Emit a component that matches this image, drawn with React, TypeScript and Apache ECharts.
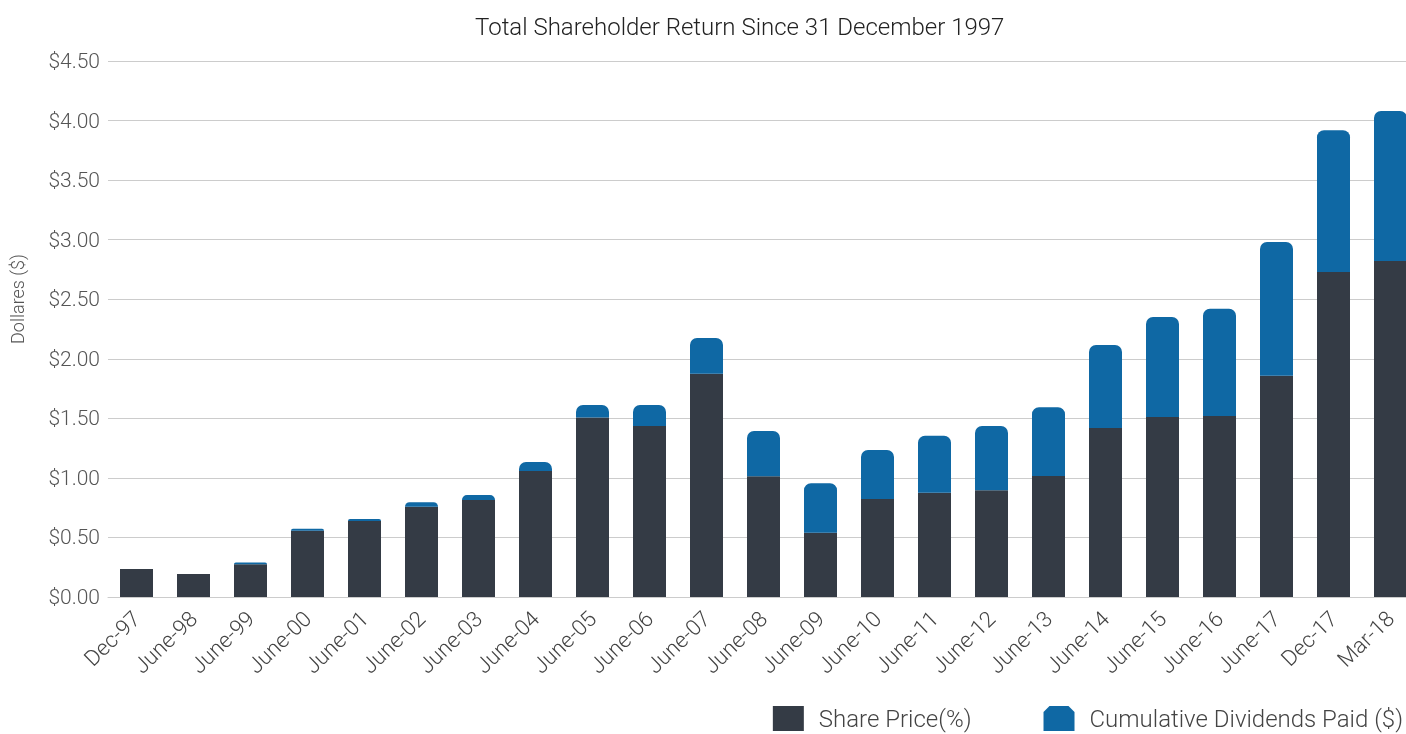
import React, { useEffect, useRef } from "react";
import * as echarts from "echarts";

const categories = [
  "Dec-97", "June-98", "June-99", "June-00", "June-01", "June-02", "June-03",
  "June-04", "June-05", "June-06", "June-07", "June-08", "June-09", "June-10",
  "June-11", "June-12", "June-13", "June-14", "June-15", "June-16", "June-17",
  "Dec-17", "Mar-18",
];

const sharePrice = [
  0.235, 0.193, 0.275, 0.557, 0.638, 0.758, 0.814,
  1.058, 1.506, 1.436, 1.875, 1.013, 0.54, 0.823,
  0.876, 0.896, 1.016, 1.419, 1.511, 1.52, 1.858,
  2.729, 2.821,
];

const cumulativeDividends = [
  0, 0, 0.015, 0.016, 0.017, 0.037, 0.042,
  0.075, 0.106, 0.176, 0.3, 0.381, 0.415, 0.411,
  0.478, 0.54, 0.577, 0.697, 0.84, 0.9, 1.122,
  1.189, 1.259,
];

const yTicks = { min: 0, max: 4.5, interval: 0.5 };

const DARK = "#343b45";
const BLUE = "#0f68a4";
const FONT = "Roboto, 'Noto Sans', sans-serif";

export default function App() {
  const ref = useRef<HTMLDivElement>(null);

  useEffect(() => {
    if (!ref.current) return;
    const chart = echarts.init(ref.current, undefined, { renderer: "svg" });
    chart.setOption({
      animation: false,
      textStyle: { fontFamily: FONT },
      title: {
        text: "Total Shareholder Return Since 31 December 1997",
        left: 470,
        top: 10,
        textStyle: { fontFamily: FONT, fontSize: 24, fontWeight: 300, color: "#222" },
      },
      legend: {
        right: 3,
        top: 706,
        padding: 0,
        itemWidth: 31,
        itemHeight: 25,
        itemGap: 72,
        textStyle: { fontFamily: FONT, fontSize: 24, fontWeight: 300, color: "#444", padding: [0, 0, 0, 10] },
        data: [
          { name: "Share Price(%)", icon: "rect" },
          { name: "Cumulative Dividends Paid ($)", icon: "path://M6,0 L25,0 L31,6 L31,25 L0,25 L0,6 Z" },
        ],
      },
      grid: {
        left: 108,
        right: -13,
        top: 61,
        bottom: 137,
        containLabel: false,
        outerBoundsMode: "none",
      },
      xAxis: {
        type: "category",
        data: categories,
        axisTick: { show: false },
        axisLine: { lineStyle: { color: "#cccccc", width: 1 } },
        axisLabel: {
          rotate: 44,
          interval: 0,
          margin: 18,
          fontFamily: FONT,
          fontSize: 22,
          fontWeight: 300,
          color: "#444",
        },
      },
      yAxis: {
        type: "value",
        min: yTicks.min,
        max: yTicks.max,
        interval: yTicks.interval,
        name: "Dollares ($)",
        nameLocation: "middle",
        nameGap: 82,
        nameTextStyle: { fontFamily: FONT, fontSize: 18, fontWeight: 300, color: "#555", padding: [0, 0, 0, 60] },
        axisLine: { show: false },
        axisTick: { show: false },
        splitLine: { lineStyle: { color: "#cccccc", width: 1 } },
        axisLabel: {
          margin: 8,
          fontFamily: FONT,
          fontSize: 21,
          fontWeight: 300,
          color: "#555",
          formatter: (v: number) => "$" + v.toFixed(2),
        },
      },
      series: [
        {
          name: "Share Price(%)",
          type: "bar",
          stack: "total",
          barWidth: 33,
          itemStyle: { color: DARK },
          data: sharePrice,
        },
        {
          name: "Cumulative Dividends Paid ($)",
          type: "bar",
          stack: "total",
          barWidth: 33,
          itemStyle: { color: BLUE, borderRadius: [7, 7, 0, 0] },
          data: cumulativeDividends,
        },
      ],
    });
    return () => chart.dispose();
  }, []);

  return (
    <div
      ref={ref}
      style={{ position: "fixed", left: 0, top: 0, width: 1406, height: 734 }}
    />
  );
}
